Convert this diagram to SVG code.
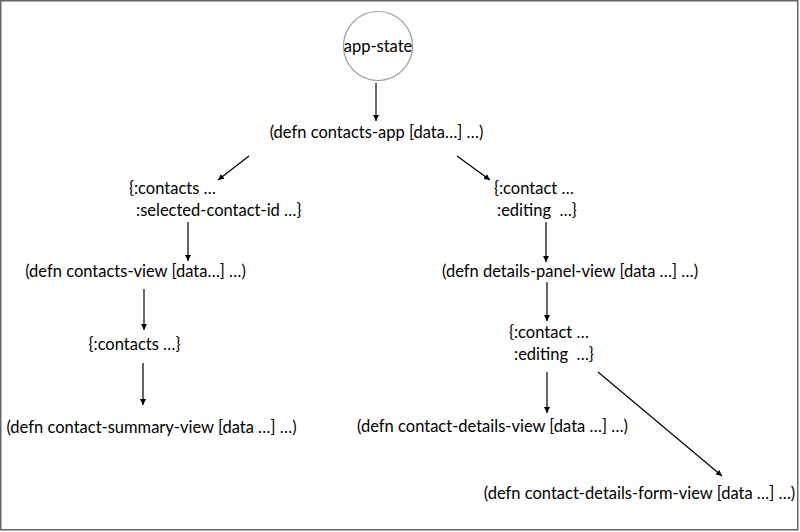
<svg xmlns="http://www.w3.org/2000/svg" width="800" height="532" viewBox="0 0 800 532">
<defs>
<marker id="ah" viewBox="0 0 10 10" refX="10" refY="5" markerWidth="6" markerHeight="6" markerUnits="userSpaceOnUse" orient="auto">
<path d="M0,0 L10,5 L0,10 z" fill="#000"/>
</marker>
<style>
.t{font-family:"Lato","Open Sans","DejaVu Sans",sans-serif;font-size:16.5px;fill:#000;white-space:pre}
.m{text-anchor:middle}
.c line{stroke:#000;stroke-width:1.2;marker-end:url(#ah)}
</style>
</defs>
<rect x="0.75" y="0.75" width="797" height="529" fill="#fff" stroke="#666" stroke-width="1.5"/>
<g id="app-state">
<circle cx="378" cy="46" r="34.5" fill="#fff" stroke="#999" stroke-width="1.2"/>
<text class="t m" x="378" y="52">app-state</text>
</g>
<g id="contacts-app"><text class="t m" x="376.5" y="138">(defn contacts-app [data…] …)</text></g>
<g id="contacts-data">
<text class="t" x="129" y="194">{:contacts …</text>
<text class="t" x="136" y="216">:selected-contact-id …}</text>
</g>
<g id="contact-data">
<text class="t" x="494" y="194">{:contact …</text>
<text class="t" x="497" y="216" xml:space="preserve">:editing  …}</text>
</g>
<g id="contacts-view"><text class="t m" x="135.5" y="277">(defn contacts-view [data…] …)</text></g>
<g id="contacts-list"><text class="t m" x="134.5" y="350">{:contacts …}</text></g>
<g id="contact-summary-view"><text class="t m" x="151.5" y="433">(defn contact-summary-view [data …] …)</text></g>
<g id="details-panel-view"><text class="t m" x="570" y="277">(defn details-panel-view [data …] …)</text></g>
<g id="contact-editing">
<text class="t" x="509" y="338">{:contact …</text>
<text class="t" x="514" y="360" xml:space="preserve">:editing  …}</text>
</g>
<g id="contact-details-view"><text class="t m" x="492.5" y="432">(defn contact-details-view [data …] …)</text></g>
<g id="contact-details-form-view"><text class="t m" x="639.5" y="499">(defn contact-details-form-view [data …] …)</text></g>
<g id="connectors" class="c">
<line x1="376" y1="83" x2="376" y2="121"/>
<line x1="249" y1="156" x2="218" y2="180"/>
<line x1="457" y1="156" x2="490" y2="180"/>
<line x1="188" y1="222" x2="188" y2="261"/>
<line x1="144" y1="289" x2="144" y2="330"/>
<line x1="143" y1="363" x2="143" y2="405"/>
<line x1="546" y1="222" x2="546" y2="262"/>
<line x1="547" y1="282" x2="547" y2="321"/>
<line x1="547" y1="372" x2="547" y2="413"/>
<line x1="598" y1="372" x2="722" y2="476"/>
</g>
</svg>
